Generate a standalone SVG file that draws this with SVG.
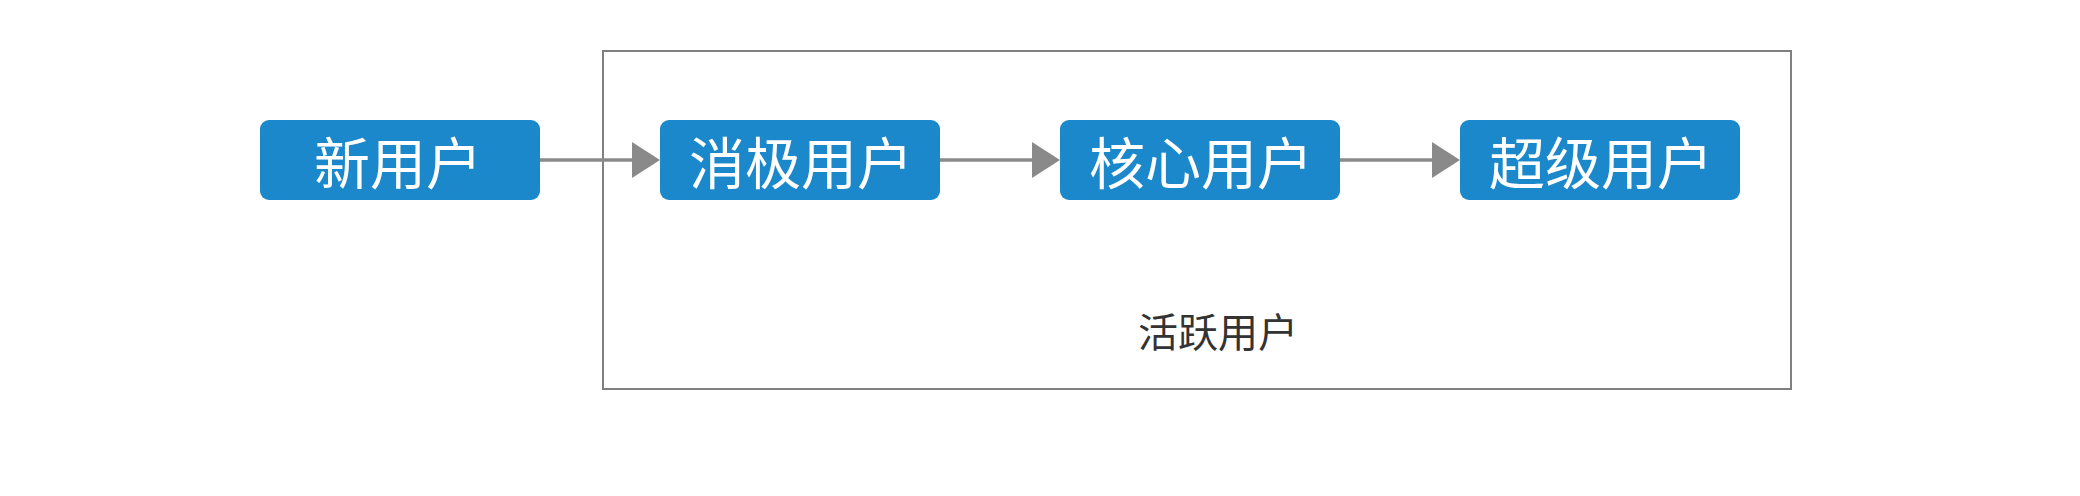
<svg xmlns="http://www.w3.org/2000/svg" width="2080" height="496" viewBox="0 0 2080 496">
<defs>
<style>
.node rect{fill:#1a88ca;}
.node text{fill:#ffffff;font-family:"Noto Sans CJK SC","Noto Sans",sans-serif;font-size:56px;text-anchor:middle;dominant-baseline:central;}
.conn line{stroke:#8a8a8a;stroke-width:3.5;}
.conn path{fill:#8a8a8a;}
.group rect{fill:none;stroke:#808080;stroke-width:2;}
.group text{fill:#333333;font-family:"Noto Sans CJK SC","Noto Sans",sans-serif;font-size:40px;text-anchor:middle;dominant-baseline:central;}
</style>
</defs>
<rect width="2080" height="496" fill="#ffffff"/>
<g id="active-users" class="group">
<rect x="603" y="51" width="1188" height="338"/>
<text x="1218" y="330">活跃用户</text>
</g>
<g id="connectors" class="conn">
<line x1="540" y1="160" x2="634" y2="160"/>
<path d="M632,142 L660,160 L632,178 Z"/>
<line x1="940" y1="160" x2="1034" y2="160"/>
<path d="M1032,142 L1060,160 L1032,178 Z"/>
<line x1="1340" y1="160" x2="1434" y2="160"/>
<path d="M1432,142 L1460,160 L1432,178 Z"/>
</g>
<g id="new-users" class="node">
<rect x="260" y="120" width="280" height="80" rx="9"/>
<text x="398" y="159">新用户</text>
</g>
<g id="passive-users" class="node">
<rect x="660" y="120" width="280" height="80" rx="9"/>
<text x="801" y="159">消极用户</text>
</g>
<g id="core-users" class="node">
<rect x="1060" y="120" width="280" height="80" rx="9"/>
<text x="1201" y="159">核心用户</text>
</g>
<g id="super-users" class="node">
<rect x="1460" y="120" width="280" height="80" rx="9"/>
<text x="1601" y="159">超级用户</text>
</g>
</svg>
